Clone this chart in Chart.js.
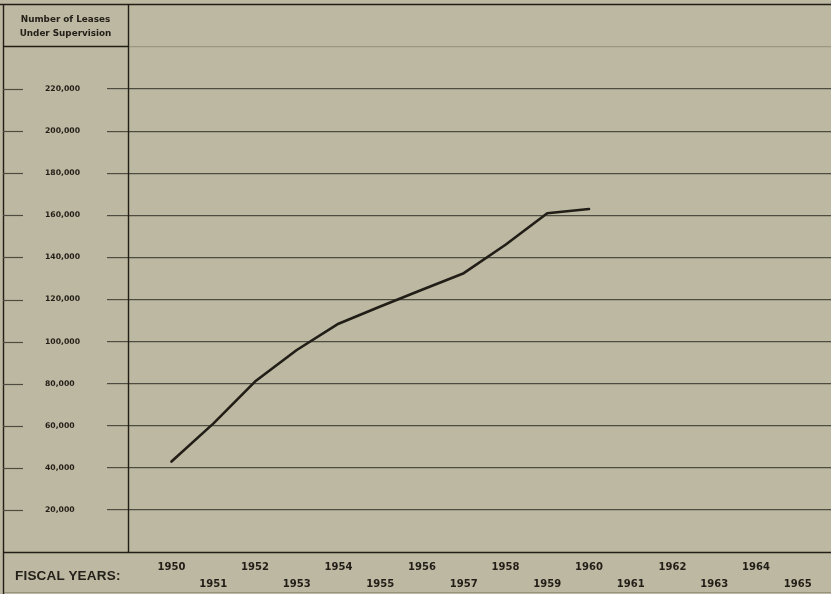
<!DOCTYPE html>
<html><head><meta charset="utf-8">
<script src="https://cdn.jsdelivr.net/npm/chart.js@4"></script>
<style>
html,body{margin:0;padding:0;background:#bdb8a1;}
#wrap{position:relative;width:831px;height:594px;overflow:hidden;background:#bdb8a1;}
canvas{position:absolute;left:0;top:0;}
.hdr{position:absolute;left:3px;width:125px;top:12px;text-align:center;font:bold 8.8px "DejaVu Sans",sans-serif;line-height:14px;color:#24201a;}
.fy{position:absolute;left:15px;top:568px;font:bold 13.5px "Liberation Sans",sans-serif;color:#24201a;letter-spacing:0.2px;}
</style></head>
<body><div id="wrap"><canvas id="c" width="831" height="594"></canvas>
<div class="hdr">Number of Leases<br>Under Supervision</div>
<div class="fy">FISCAL YEARS:</div></div>
<script>
// ---- data ----
const years  = [1950, 1951, 1952, 1953, 1954, 1955, 1956, 1957, 1958, 1959, 1960];
const leases = [43000, 61000, 81000, 96000, 108500, 116700, 124600, 132500, 146000, 161000, 163000];
const yearTicks = [1950,1951,1952,1953,1954,1955,1956,1957,1958,1959,1960,1961,1962,1963,1964,1965];
const leaseTicks = [20000,40000,60000,80000,100000,120000,140000,160000,180000,200000,220000];

const INK = '#211d17';
const GRID = '#4e4b41';

const framePlugin = {
  id: 'frame',
  beforeDatasetsDraw(chart) {
    const ctx = chart.ctx, ca = chart.chartArea, ys = chart.scales.y;
    ctx.save();
    ctx.strokeStyle = INK;
    ctx.lineWidth = 1.4;
    const line = (x1,y1,x2,y2) => { ctx.beginPath(); ctx.moveTo(x1,y1); ctx.lineTo(x2,y2); ctx.stroke(); };
    line(0, 4.5, 831, 4.5);              // top border
    line(3.5, 4, 3.5, 594);              // left border
    line(ca.left + 0.5, 4, ca.left + 0.5, ca.bottom); // column divider
    line(3, ca.top - 0.5, ca.left, ca.top - 0.5);     // header rule
    line(3, ca.bottom + 0.5, 831, ca.bottom + 0.5);   // fiscal-year rule
    ctx.strokeStyle = GRID;
    ctx.lineWidth = 1.2;
    leaseTicks.forEach(v => {
      const y = Math.round(ys.getPixelForValue(v)) + 0.5;
      line(3, y, 23, y);
    });
    ctx.strokeStyle = 'rgba(80,76,64,0.35)';
    line(3, 592.5, 831, 592.5);
    ctx.restore();
  }
};

new Chart(document.getElementById('c'), {
  type: 'line',
  data: {
    datasets: [{
      data: years.map((y, i) => ({ x: y, y: leases[i] })),
      borderColor: INK,
      borderWidth: 2.6,
      pointRadius: 0,
      tension: 0,
      borderJoinStyle: 'round',
      borderCapStyle: 'round',
      fill: false
    }]
  },
  options: {
    responsive: false,
    animation: false,
    devicePixelRatio: 1,
    layout: { autoPadding: false, padding: { top: 47, left: 45, right: 0, bottom: 0 } },
    plugins: { legend: { display: false }, tooltip: { enabled: false } },
    scales: {
      x: {
        type: 'linear',
        min: 1948.958,
        max: 1965.796,
        afterFit(s) { s.height = 42; },
        afterBuildTicks(s) { s.ticks = yearTicks.map(v => ({ value: v })); },
        grid: { display: false },
        border: { display: false },
        ticks: {
          autoSkip: false,
          maxRotation: 0,
          padding: -1.5,
          color: INK,
          font: { family: 'DejaVu Sans', weight: 'bold', size: 10, lineHeight: 1.7 },
          callback: v => (v % 2 === 0 ? [String(v)] : ['', String(v)])
        }
      },
      y: {
        min: 0,
        max: 240000,
        afterFit(s) { s.width = 83; },
        afterBuildTicks(s) { s.ticks = [0, ...leaseTicks, 240000].map(v => ({ value: v })); },
        grid: {
          color: c => (c.tick && c.tick.value === 0) ? 'rgba(0,0,0,0)' :
                      (c.tick && c.tick.value === 240000) ? 'rgba(80,76,64,0.3)' : GRID,
          tickColor: c => (c.tick && (c.tick.value === 0 || c.tick.value === 240000)) ? 'rgba(0,0,0,0)' : GRID,
          lineWidth: 1.2,
          tickLength: 21,
          drawTicks: true
        },
        border: { display: false },
        ticks: {
          crossAlign: 'far',
          color: INK,
          font: { family: 'DejaVu Sans', weight: 'bold', size: 7.7 },
          callback: v => leaseTicks.includes(v) ? v.toLocaleString('en-US') : ''
        }
      }
    }
  },
  plugins: [framePlugin]
});
</script>
</body></html>
